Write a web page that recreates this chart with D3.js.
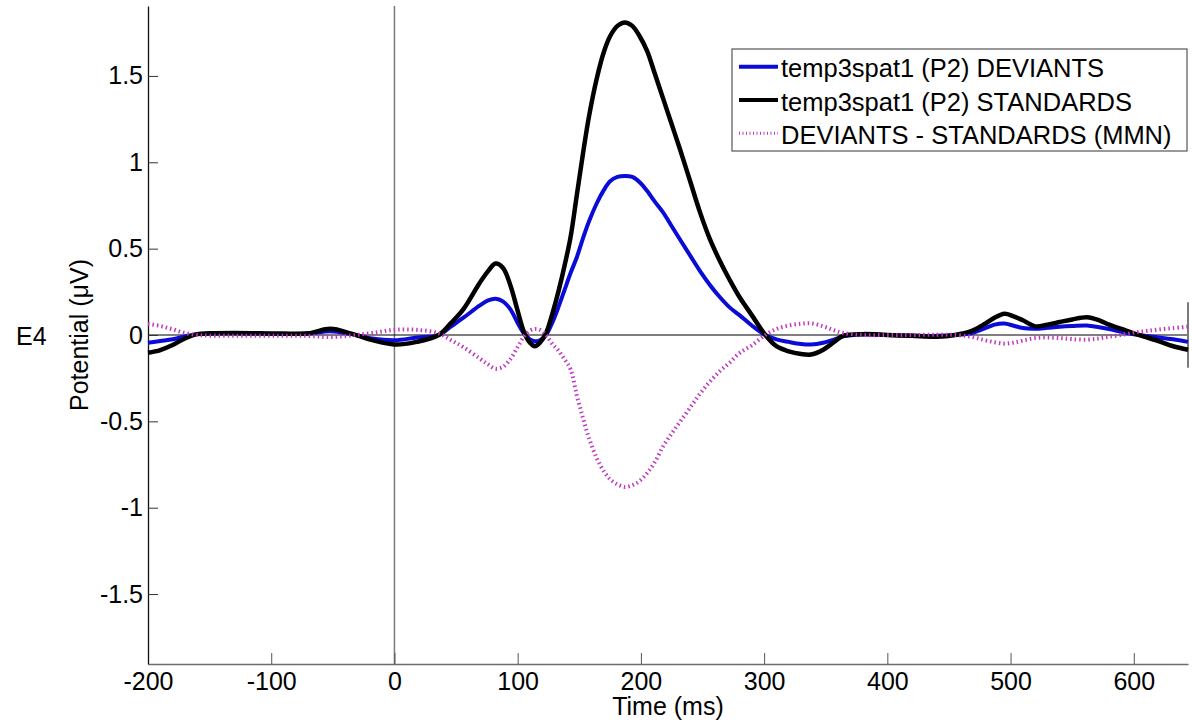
<!DOCTYPE html>
<html lang="en">
<head>
    <meta charset="UTF-8">
    <title>E4 - temp3spat1 (P2)</title>
    <style>
        body { margin: 0; background: #fff; }
        svg { display: block; font-family: "Liberation Sans", Arial, sans-serif; }
    </style>
</head>
<body>

    <div id="graphique"></div>

    <script src="https://d3js.org/d3.v7.min.js"></script>

    <script>

// time (ms) and potentials (µV)
let times = [
    -200, -190, -180, -170, -160, -150, -130, -110, -90, -70,
    -52, -35, -18, 0, 18, 36, 46, 56, 69, 76,
    82, 88, 94, 100, 105, 110, 114, 118, 123, 128,
    133, 138, 143, 148, 153, 158, 164, 170, 175, 181,
    187, 193, 199, 205, 211, 218, 225, 232, 240, 248,
    256, 264, 272, 280, 290, 301, 310, 320, 330, 338,
    348, 356, 364, 380, 400, 420, 440, 455, 468, 478,
    487, 495, 502, 510, 520, 530, 540, 550, 562, 572,
    580, 590, 600, 610, 620, 632, 644
]

let deviants = [
    -0.045, -0.035, -0.025, -0.008, 0.005, 0.008, 0.01, 0.008, 0.006, 0.008,
    0.022, 0.005, -0.02, -0.03, -0.015, 0.0, 0.05, 0.10, 0.17, 0.20,
    0.21, 0.195, 0.15, 0.07, 0.01, -0.025, -0.036, -0.03, 0.0, 0.07,
    0.16, 0.26, 0.36, 0.45, 0.56, 0.66, 0.76, 0.84, 0.89, 0.915,
    0.92, 0.915, 0.885, 0.835, 0.775, 0.71, 0.63, 0.55, 0.46, 0.37,
    0.29, 0.22, 0.16, 0.115, 0.055, 0.0, -0.025, -0.04, -0.052, -0.055,
    -0.045, -0.028, -0.008, 0.003, 0.0, -0.003, -0.005, 0.0, 0.01, 0.035,
    0.06, 0.067, 0.055, 0.04, 0.036, 0.042, 0.048, 0.052, 0.055, 0.045,
    0.035, 0.018, 0.004, -0.006, -0.014, -0.025, -0.04
]

let standards = [
    -0.103, -0.087, -0.058, -0.02, 0.005, 0.01, 0.012, 0.01, 0.008, 0.01,
    0.036, 0.008, -0.03, -0.055, -0.04, 0.0, 0.07, 0.15, 0.30, 0.37,
    0.414, 0.39, 0.29, 0.14, 0.02, -0.045, -0.065, -0.045, 0.01, 0.12,
    0.25, 0.40, 0.57, 0.81, 1.05, 1.27, 1.48, 1.64, 1.73, 1.79,
    1.81, 1.79, 1.73, 1.645, 1.52, 1.37, 1.22, 1.07, 0.89, 0.71,
    0.555, 0.43, 0.32, 0.22, 0.115, 0.0, -0.065, -0.095, -0.11, -0.113,
    -0.085, -0.045, -0.005, 0.005, 0.0, -0.005, -0.01, 0.0, 0.022, 0.06,
    0.10, 0.123, 0.11, 0.085, 0.05, 0.06, 0.075, 0.09, 0.103, 0.085,
    0.06, 0.035, 0.01, -0.012, -0.035, -0.065, -0.085
]

let mmn = [
    0.065, 0.052, 0.033, 0.012, 0.0, -0.004, -0.004, -0.004, -0.004, -0.005,
    -0.012, -0.003, 0.012, 0.03, 0.03, 0.01, -0.03, -0.07, -0.135, -0.17,
    -0.195, -0.185, -0.14, -0.07, -0.01, 0.025, 0.035, 0.03, 0.0, -0.05,
    -0.09, -0.14, -0.2, -0.35, -0.48, -0.60, -0.71, -0.79, -0.835, -0.865,
    -0.88, -0.87, -0.845, -0.80, -0.74, -0.645, -0.57, -0.50, -0.42, -0.34,
    -0.27, -0.21, -0.16, -0.105, -0.06, 0.0, 0.035, 0.055, 0.065, 0.068,
    0.05, 0.03, 0.012, 0.0, 0.0, 0.0, 0.002, 0.0, -0.01, -0.028,
    -0.042, -0.05, -0.045, -0.032, -0.018, -0.015, -0.018, -0.024, -0.027, -0.02,
    -0.01, 0.0, 0.014, 0.023, 0.032, 0.04, 0.048
]

let seriesNames = ['temp3spat1 (P2) DEVIANTS', 'temp3spat1 (P2) STANDARDS', 'DEVIANTS - STANDARDS (MMN)']
let xTicks = [-200, -100, 0, 100, 200, 300, 400, 500, 600]
let yTicks = [-1.5, -1, -0.5, 0, 0.5, 1, 1.5]
let xDomain = [-200, 644]
let yDomain = [-1.905, 1.905]

let width = 1192, height = 722
let margin = { top: 6, right: 4, bottom: 58, left: 148 }

let svg = d3.select('#graphique')
            .append('svg')
            .attr('width', width)
            .attr('height', height)

let x = d3.scaleLinear()
          .domain(xDomain)
          .range([margin.left, width - margin.right])

let y = d3.scaleLinear()
          .domain(yDomain)
          .range([height - margin.bottom, margin.top])

let styles = [
    { color: '#0b0bd8', width: 4, dash: null, legendWidth: 4, legendDash: null },
    { color: '#000000', width: 4.5, dash: null, legendWidth: 4, legendDash: null },
    { color: '#c03ac0', width: 4, dash: '1.5 3', legendWidth: 3, legendDash: '1 2.5' }
]

let series = [deviants, standards, mmn].map(function(values, k){
    return { name: seriesNames[k], style: styles[k],
             points: times.map(function(t, i){ return { t: t, v: values[i] } }) }
})

// reference lines at t = 0 and v = 0
svg.append('line')
   .attr('x1', x(0)).attr('x2', x(0))
   .attr('y1', y(yDomain[1])).attr('y2', y(yDomain[0]))
   .attr('stroke', '#7a7a7a')
   .attr('stroke-width', 1.5)

svg.append('line')
   .attr('x1', x(xDomain[0])).attr('x2', x(xDomain[1]))
   .attr('y1', y(0)).attr('y2', y(0))
   .attr('stroke', '#000')
   .attr('stroke-width', 1.2)

// small scale mark at the right end
svg.append('line')
   .attr('x1', x(xDomain[1])).attr('x2', x(xDomain[1]))
   .attr('y1', y(0.19)).attr('y2', y(-0.19))
   .attr('stroke', '#7a7a7a')
   .attr('stroke-width', 2)

// X axis
let axeX = d3.axisBottom(x)
             .tickValues(xTicks)
             .tickSizeInner(-11)
             .tickSizeOuter(0)
             .tickPadding(8)
             .tickFormat(function(d){ return String(d) })

let gx = svg.append('g')
            .attr('transform', `translate(0, ${height - margin.bottom})`)
            .call(axeX)

gx.select('.domain').attr('stroke', '#6e6e6e').attr('stroke-width', 1.5)
gx.selectAll('.tick line').attr('stroke', '#555')
gx.selectAll('text')
  .style('font-size', '25px')
  .style('font-family', '"Liberation Sans", Arial, sans-serif')
  .attr('fill', '#000')

// Y axis
let axeY = d3.axisLeft(y)
             .tickValues(yTicks)
             .tickSizeInner(-10)
             .tickSizeOuter(0)
             .tickPadding(5)
             .tickFormat(function(d){ return String(d) })

let gy = svg.append('g')
            .attr('transform', `translate(${margin.left}, 0)`)
            .call(axeY)

gy.select('.domain').attr('stroke', '#111').attr('stroke-width', 1.3)
gy.selectAll('.tick line').attr('stroke', '#333')
gy.selectAll('text')
  .style('font-size', '25px')
  .style('font-family', '"Liberation Sans", Arial, sans-serif')
  .attr('fill', '#000')

// curves
let line = d3.line()
             .x(function(d){ return x(d.t) })
             .y(function(d){ return y(d.v) })
             .curve(d3.curveCatmullRom.alpha(0.5))

series.forEach(function(s){
    svg.append('path')
       .datum(s.points)
       .attr('fill', 'none')
       .attr('stroke', s.style.color)
       .attr('stroke-width', s.style.width)
       .attr('stroke-dasharray', s.style.dash)
       .attr('stroke-linejoin', 'round')
       .attr('d', line)
})

// labels
svg.append('text')
   .attr('x', 16)
   .attr('y', 345)
   .style('font-size', '25px')
   .text('E4')

svg.append('text')
   .attr('transform', `translate(88, ${(margin.top + height - margin.bottom) / 2}) rotate(-90)`)
   .attr('text-anchor', 'middle')
   .style('font-size', '25px')
   .text('Potential (μV)')

svg.append('text')
   .attr('x', (x(xDomain[0]) + x(xDomain[1])) / 2)
   .attr('y', 715)
   .attr('text-anchor', 'middle')
   .style('font-size', '25px')
   .text('Time (ms)')

// legend
let legend = svg.append('g')
                .attr('transform', 'translate(732, 49)')

legend.append('rect')
      .attr('width', 455)
      .attr('height', 102)
      .attr('fill', '#fff')
      .attr('stroke', '#555')
      .attr('stroke-width', 1.2)

series.forEach(function(s, i){
    let ly = 17.7 + i * 33.3
    legend.append('line')
          .attr('x1', 7).attr('x2', 46)
          .attr('y1', ly).attr('y2', ly)
          .attr('stroke', s.style.color)
          .attr('stroke-width', s.style.legendWidth)
          .attr('stroke-dasharray', s.style.legendDash)
    legend.append('text')
          .attr('x', 49)
          .attr('y', ly + 10.5)
          .style('font-size', '25.5px')
          .text(s.name)
})

    </script>
</body>
</html>
